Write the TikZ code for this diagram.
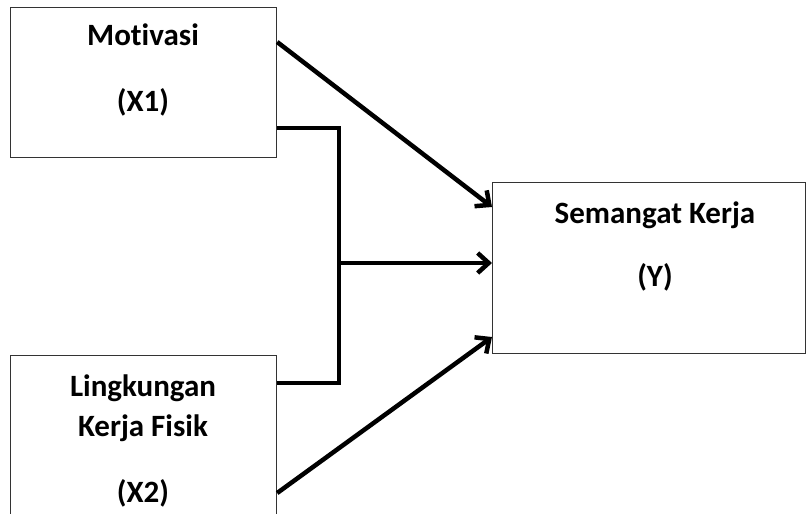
\documentclass[tikz,border=0pt]{standalone}
\usepackage{fontspec}
\setmainfont{Carlito}[Ligatures=NoCommon]
\usetikzlibrary{arrows.meta,calc}
\tikzset{
  box/.style={draw=black!80, line width=1.2pt, fill=white, inner sep=0pt, anchor=north west},
  lbl/.style={font=\fontsize{31}{35}\selectfont\bfseries, anchor=base, inner sep=0pt},
  conn/.style={line width=4.5pt, line join=miter},
  arr/.style={conn, -{Straight Barb[length=11pt,width=20pt]}}
}
\begin{document}
\begin{tikzpicture}[x=1pt,y=-1pt]
\clip (0,0) rectangle (807,514);
\fill[white] (0,0) rectangle (807,514);
\node[box, minimum width=266pt, minimum height=150pt] (x1) at (10,7) {};
\node[box, minimum width=266pt, minimum height=175pt] (x2) at (10,355) {};
\node[box, minimum width=313pt, minimum height=171pt] (y) at (492,182) {};
\node[lbl] (t1) at (143,45.5) {Motivasi};
\node[lbl] (t2) at (143,111.5) {(X1)};
\node[lbl] (t3) at (143,396.5) {Lingkungan};
\node[lbl] (t4) at (143,436) {Kerja Fisik};
\node[lbl] (t5) at (143,502) {(X2)};
\node[lbl] (t6) at (655,223) {Semangat Kerja};
\node[lbl] (t7) at (655,286.5) {(Y)};
\coordinate (a1) at ([yshift=-35pt]x1.north east);
\coordinate (b1) at ([yshift=-121pt]x1.north east);
\coordinate (b2) at ([yshift=-28pt]x2.north east);
\coordinate (a2) at ([yshift=-138pt]x2.north east);
\coordinate (ya) at ([yshift=-25pt]y.north west);
\coordinate (yb) at ([yshift=-81pt]y.north west);
\coordinate (yc) at ([yshift=-155pt]y.north west);
\coordinate (mid) at (339,263);
\draw[arr] (a1) -- (ya);
\draw[arr] (a2) -- (yc);
\draw[conn] (b1) -- (339,128) -- (339,383) -- (b2);
\draw[arr] ([xshift=-2pt]mid) -- (yb);
\end{tikzpicture}
\end{document}
